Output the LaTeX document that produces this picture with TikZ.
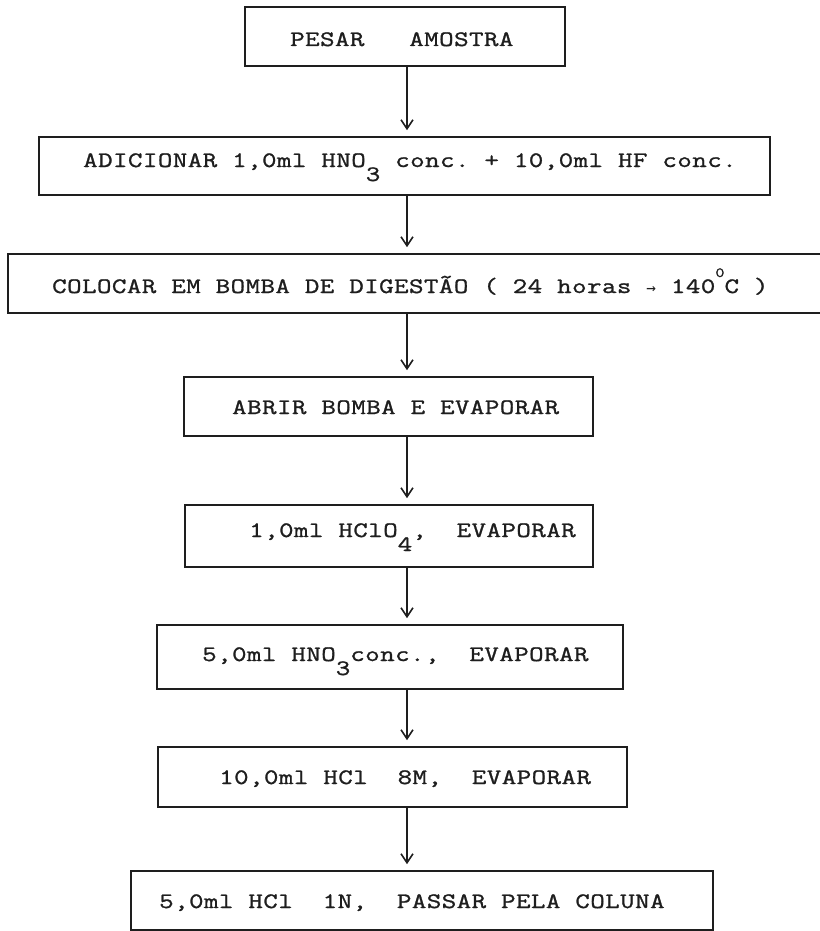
\documentclass[tikz,border=0pt]{standalone}
\usepackage{fontspec}
\setmonofont{Latin Modern Mono}[FakeStretch=1.28, LetterSpace=2, FakeBold=1.2]
\newfontfamily\arrowfont{DejaVu Sans Mono}
\usetikzlibrary{arrows.meta}
\definecolor{ink}{HTML}{1E1E1E}
\newcommand{\lowr}[1]{\raisebox{-14pt}{#1}}
\newcommand{\upr}[1]{\raisebox{16pt}{\fontsize{14}{14}\selectfont #1}}
\newcommand{\arr}{{\arrowfont\fontsize{16}{16}\selectfont →}}
\begin{document}
\begin{tikzpicture}[x=1pt,y=-1pt,
  box/.style n args={2}{draw=ink, line width=1.6pt, minimum width=#1, minimum height=#2, inner sep=0pt},
  txt/.style={anchor=base west, inner sep=0pt, text=ink, font=\ttfamily\fontsize{22}{24}\selectfont\frenchspacing},
  conn/.style={draw=ink, line width=1.6pt, -{Straight Barb[length=9pt,width=12pt,line width=1.6pt]}, shorten >=6pt}]
\useasboundingbox (0,0) rectangle (819,931);
\fill[white] (0,0) rectangle (819,931);
% boxes
\node[box={320pt}{59pt}] (b1) at (405,36.5) {};
\node[box={731pt}{58pt}] (b2) at (404.5,166) {};
\node[box={818pt}{59pt}] (b3) at (417,283.5) {};
\node[box={409pt}{59pt}] (b4) at (388.5,406.5) {};
\node[box={408pt}{62pt}] (b5) at (389,536) {};
\node[box={466pt}{64pt}] (b6) at (390,657) {};
\node[box={469pt}{60pt}] (b7) at (392.5,777) {};
\node[box={582pt}{59pt}] (b8) at (422,900.5) {};
% texts
\node[txt] (t1) at (290,46) {PESAR~~~AMOSTRA};
\node[txt] (t2) at (83,167) {ADICIONAR 1,0ml HNO\lowr{3} conc. + 10,0ml HF conc.};
\node[txt] (t3) at (52,293) {COLOCAR EM BOMBA DE DIGESTÃO ( 24 horas \arr{} 140\upr{0}C )};
\node[txt] (t4) at (232,414) {ABRIR BOMBA E EVAPORAR};
\node[txt] (t5) at (249,537) {1,0ml HClO\lowr{4},~~EVAPORAR};
\node[txt] (t6) at (202,661) {5,0ml HNO\lowr{3}conc.,~~EVAPORAR};
\node[txt] (t7) at (219,784) {10,0ml HCl~~8M,~~EVAPORAR};
\node[txt] (t8) at (159,908) {5,0ml HCl~~1N,~~PASSAR PELA COLUNA};
% connectors
\coordinate (ax) at (407,0);
\foreach \a/\b in {b1/b2,b2/b3,b3/b4,b4/b5,b5/b6,b6/b7,b7/b8}
  \draw[conn] (\a.south -| ax) -- (\b.north -| ax);
\end{tikzpicture}
\end{document}
